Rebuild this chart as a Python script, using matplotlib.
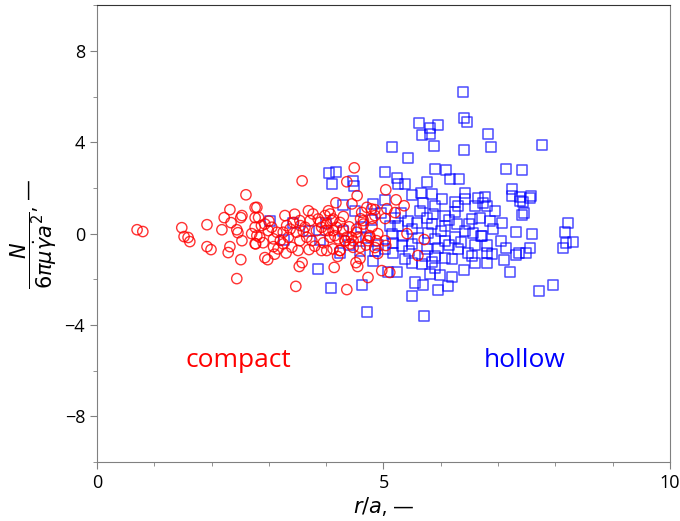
import matplotlib
matplotlib.use("Agg")
import matplotlib.pyplot as plt
from matplotlib.ticker import MultipleLocator

plt.rcParams['font.family'] = ['Open Sans', 'DejaVu Sans']
plt.rcParams['mathtext.fontset'] = 'dejavusans'

# compact (red circles)
compact_x = [0.70, 0.80, 1.48, 1.52, 1.59, 1.62, 1.92, 1.92, 1.99, 2.18, 2.22, 2.32, 2.34, 2.32, 2.29,
             2.44, 2.46, 2.51, 2.53, 2.53, 2.60, 2.51, 2.44, 2.70, 2.76, 2.76, 2.76,
             2.79, 2.82, 2.76, 2.87, 2.79, 2.84, 2.77, 2.93, 2.99, 3.05, 3.08, 3.14, 3.08, 3.16,
             3.25, 3.28, 3.25, 3.31, 3.34, 3.40, 3.43, 3.48, 3.51, 3.54, 3.54, 3.63, 3.66, 3.69,
             3.72, 3.75, 3.77, 3.83, 3.86, 3.92, 3.98, 3.92, 4.01, 4.04, 4.07, 4.10, 4.07, 4.12,
             4.12, 4.18, 4.21, 4.24, 4.30, 4.33, 4.36, 4.42, 4.47, 4.53, 4.62, 4.65, 4.71, 4.73,
             4.76, 4.56,
             3.58, 4.49, 4.36, 4.54, 4.17, 2.93, 2.98, 3.58, 3.53, 3.47, 4.14, 4.36, 4.52, 4.55,
             4.59, 4.73,
             5.22, 5.36, 5.06, 5.20, 5.03, 4.85, 4.80, 5.41, 5.71, 5.60, 5.03, 5.04, 4.90, 4.85,
             4.90, 4.97, 5.11, 5.04,
             3.98, 4.12, 4.24, 4.04, 4.15, 4.33, 4.44, 4.53, 4.65, 4.79, 4.85, 4.76, 4.88, 4.59,
             4.47, 4.24, 4.01,
             3.00, 3.20, 3.37, 3.60, 3.80, 3.90, 4.30, 4.40, 4.60, 4.70, 3.10, 3.30, 3.70, 3.45,
             3.95, 4.45, 4.80, 4.20, 2.90, 3.55]
compact_y = [0.17, 0.09, 0.26, -0.13, -0.17, -0.35, 0.39, -0.57, -0.70, 0.17, 0.70, 1.05, 0.48, -0.57, -0.83,
             0.17, 0.04, 0.70, 0.79, -0.31, 1.70, -1.14, -1.97, 0.00, 1.14, 0.70, -0.44,
             1.15, 0.71, 0.28, 0.35, -0.09, -0.16, -0.45, 0.42, 0.13, 0.28, -0.23, 0.06, -0.57, -0.67,
             -0.45, 0.79, 0.06, 0.35, -0.16, -0.60, 0.49, 0.06, -0.74, 0.57, -0.31, 0.28, -0.16, 1.00,
             0.57, -0.31, 0.86, 0.13, 0.64, 0.28, 0.13, -0.74, 0.42, 1.00, 0.86, 0.57, -0.16, 0.13,
             -0.67, 0.28, -0.23, -0.74, 0.20, -0.31, -0.16, -0.45, -0.31, 0.20, 0.93, 0.57, 1.15, -0.31,
             -0.09, -0.16,
             2.31, 2.88, 2.27, 1.66, 1.35, -1.05, -1.14, -1.27, -1.44, -2.31, -1.48, -2.45, -1.27, -1.44,
             -1.09, -1.92,
             1.48, 1.22, 1.09, 0.92, 0.66, 1.05, 0.66, 0.00, -0.26, -0.96, -0.31, -0.52, 0.00, -0.61,
             -0.87, -1.62, -1.70, 1.92,
             0.79, 0.64, 0.49, 0.13, -0.09, -0.31, -0.16, 0.06, 0.42, 1.08, 0.79, -0.16, -0.31, -0.60,
             -0.60, -0.74, -0.74,
             0.55, -0.30, 0.20, 0.10, -0.55, 0.50, 0.75, 0.30, 0.65, -0.50, -0.90, -0.85, -0.70, 0.85,
             -0.40, 1.30, 0.30, -1.00, -0.40, 0.35]

# hollow (blue squares)
hollow_x = [6.39, 6.40, 6.46, 5.62, 5.81, 5.95, 5.67, 5.81, 5.88, 6.40, 5.15, 5.43, 5.03, 5.90, 6.09,
            6.16, 6.32, 5.24, 5.25, 5.38, 5.76, 5.50, 5.65, 5.85, 6.02, 6.42, 6.65, 6.82, 6.88, 7.77,
            7.14, 7.42, 7.24, 7.24, 7.38, 7.57, 6.77,
            8.22, 8.17, 8.31, 8.18, 8.13, 7.96, 7.71, 7.21, 7.10, 7.56, 7.36, 7.31, 7.49, 7.59,
            7.31, 7.42, 7.45, 7.38, 7.43, 7.56, 6.81, 6.95, 6.86, 6.91, 7.07, 6.81, 7.14, 7.05,
            6.81, 6.81, 6.70,
            5.03, 5.69, 5.90, 6.25, 6.42, 6.60, 6.74, 5.64, 5.76, 5.86, 6.07, 6.25, 6.54, 6.68,
            5.43, 5.58, 5.11, 5.25, 5.85, 6.07, 6.28, 6.42, 6.56, 6.72, 5.78, 5.90, 6.07, 6.25,
            5.50, 5.32, 5.17, 5.76, 5.95, 6.07, 6.20, 5.90, 5.72, 6.30, 6.47, 6.54, 5.67, 5.38,
            5.50, 5.81, 5.99, 6.20, 5.55, 5.69, 5.95, 6.13, 5.50, 4.71, 5.71, 5.24, 5.08, 4.82,
            5.17, 5.03, 5.34, 5.15,
            4.05, 4.17, 4.10, 4.47, 4.49, 4.29, 3.86, 4.08, 4.62, 4.59, 4.24, 3.26, 3.02, 3.42,
            4.85, 4.82,
            5.30, 5.50, 5.60, 6.00, 6.15, 6.35, 6.50, 6.60, 5.45, 5.85, 6.30, 6.15, 5.20, 6.60,
            6.40, 5.90, 6.90,
            3.70, 3.90, 4.00, 4.40, 4.60, 4.70, 4.80, 4.50, 4.90, 4.95, 4.30]
hollow_y = [6.20, 5.07, 4.89, 4.85, 4.63, 4.76, 4.32, 4.37, 3.84, 3.67, 3.80, 3.32, 2.71, 2.84, 2.79,
            2.40, 2.40, 2.45, 2.18, 2.18, 2.27, 1.70, 1.79, 1.75, 1.53, 1.79, 1.57, 4.37, 3.80, 3.89,
            2.84, 2.79, 1.97, 1.66, 1.62, 1.66, 1.62,
            0.48, 0.09, -0.35, -0.39, -0.61, -2.27, -2.53, -1.66, -1.14, -0.61, -0.83, -0.92, -0.83, 0.00,
            0.09, 0.83, 0.92, 1.44, 1.40, 1.57, 1.22, 1.00, 0.57, 0.22, 0.48, -0.52, -0.61, -0.31,
            -0.87, -1.27, -0.10,
            1.48, 1.35, 1.22, 1.40, 1.53, 1.22, 1.35, 1.00, 0.70, 0.87, 0.79, 0.96, 0.66, 0.70,
            0.57, 0.48, 0.35, 0.35, 0.44, 0.35, 0.44, 0.13, 0.04, -0.09, 0.04, -0.22, -0.31, -0.17,
            -0.44, -0.52, -0.39, -0.66, -0.61, -1.05, -1.09, -0.96, -0.96, -0.66, -0.87, -0.96, -1.31, -1.09,
            -1.27, -1.75, -1.83, -1.92, -2.14, -2.27, -2.45, -2.31, -2.71, -3.45, -3.62, -1.66, -1.70, -1.18,
            -0.83, -0.66, -0.09, 0.00,
            2.66, 2.71, 2.18, 2.31, 2.10, 1.27, -1.57, -2.40, -2.23, -0.74, -0.87, -0.26, 0.57, 0.48,
            -0.74, 1.31,
            0.90, 0.20, -0.20, 0.10, -0.50, -0.35, 0.40, -0.50, -0.75, -1.25, 1.20, 0.60, 0.70, -1.30,
            -1.60, -1.50, -0.90,
            0.10, -0.30, 0.45, -0.50, 0.30, -0.20, 0.60, 1.00, -0.50, 0.90, 0.10]

x_label = r'$r/a$, —'
y_label = r'$\dfrac{N}{6\pi\mu\dot{\gamma}a^2}$, —'

fig = plt.figure(figsize=(6.8, 5.21), dpi=100)
ax = fig.add_axes([0.1426, 0.1132, 0.8427, 0.8768])

ax.scatter(hollow_x, hollow_y, marker='s', s=52, facecolors='none',
           edgecolors='#0000ff', linewidths=1.1, alpha=0.7, zorder=2)
ax.scatter(compact_x, compact_y, marker='o', s=55, facecolors='none',
           edgecolors='#ff0000', linewidths=1.0, alpha=0.8, zorder=3)

ax.text(2.46, -5.55, 'compact', color='#ff0000', fontsize=19, ha='center', va='center')
ax.text(7.47, -5.55, 'hollow', color='#0000ff', fontsize=19, ha='center', va='center')

ax.set_xlim(0, 10)
ax.set_ylim(-10, 10)
ax.xaxis.set_major_locator(MultipleLocator(5))
ax.xaxis.set_minor_locator(MultipleLocator(1))
ax.yaxis.set_minor_locator(MultipleLocator(2))
ax.set_yticks([-8, -4, 0, 4, 8])
ax.set_yticklabels(['\u22128', '\u22124', '0', '4', '8'])

for sp in ax.spines.values():
    sp.set_color('#808080')
ax.spines['top'].set_color('#333333')
ax.tick_params(which='both', colors='#808080', labelcolor='black', labelsize=13)
ax.tick_params(which='major', length=5)
ax.tick_params(which='minor', length=3)

ax.set_xlabel(x_label, fontsize=15, labelpad=2)
ax.set_ylabel(y_label, fontsize=15, labelpad=4)

fig.savefig('out.png', dpi=100)
